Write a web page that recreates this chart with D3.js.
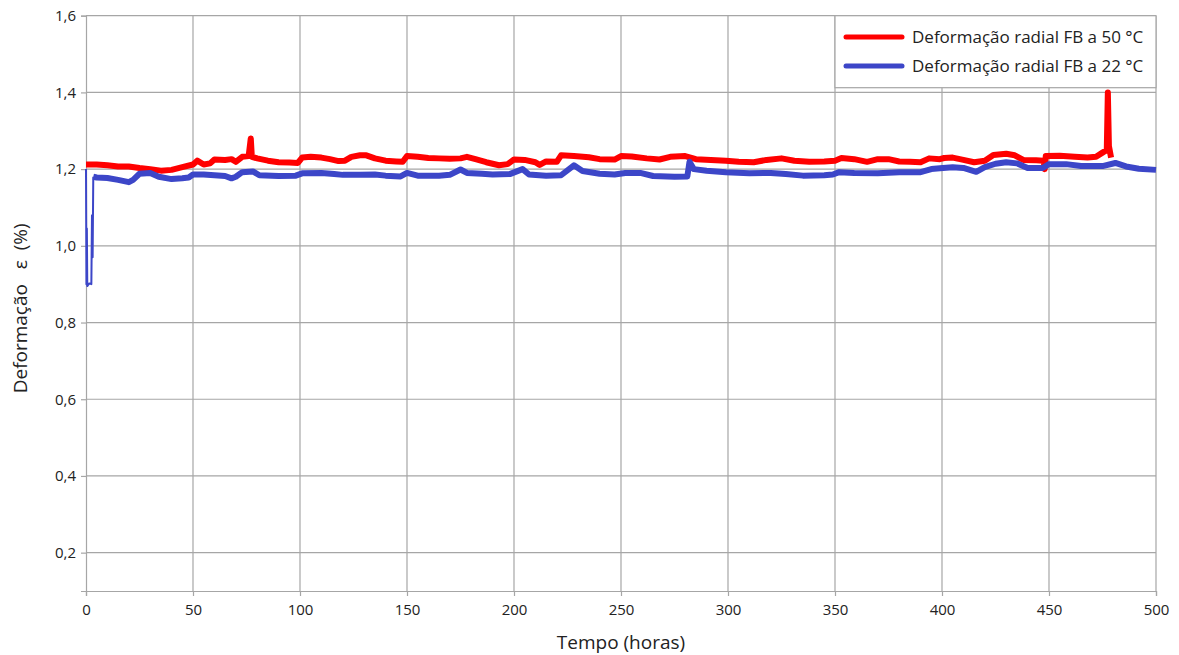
<!DOCTYPE html>
<html>
<head>
<meta charset="utf-8">
<script src="https://cdn.jsdelivr.net/npm/d3@7"></script>
<style>
  body { margin: 0; background: #fff; }
  svg { font-family: "Open Sans", sans-serif; }
</style>
</head>
<body>
<div id="chart"></div>
<script>
// series FB a 50 °C (hours, strain %)
const hours50 = [0, 5, 10, 15, 20, 25, 30, 35, 40, 45, 50, 52, 55, 58, 60, 65, 68, 70, 73, 76, 77, 77.5, 80, 85, 90, 95, 99,
  101, 105, 110, 114, 118, 121, 124, 128, 131, 135, 140, 145, 148, 150, 155, 160, 165, 170, 175, 178, 182, 187, 193, 197,
  200, 205, 210, 212, 215, 220, 222, 228, 235, 240, 247, 250, 255, 262, 268, 273, 280, 285, 292, 299, 305, 312, 318, 325,
  331, 338, 345, 350, 353, 359, 365, 370, 375, 380, 385, 390, 394, 399, 401, 405, 410, 415, 420, 424, 430, 434, 438, 444,
  447.5, 448, 448.5, 455, 462, 468, 472, 475, 477, 477.5, 478, 479];
const strain50 = [1.212, 1.212, 1.21, 1.207, 1.207, 1.203, 1.2, 1.196, 1.198, 1.205, 1.212, 1.222, 1.212, 1.215, 1.225, 1.224, 1.226, 1.219, 1.232, 1.234, 1.28, 1.232, 1.228, 1.222, 1.218, 1.217, 1.216,
  1.23, 1.232, 1.23, 1.226, 1.221, 1.222, 1.232, 1.236, 1.236, 1.228, 1.222, 1.22, 1.219, 1.234, 1.232, 1.229, 1.228, 1.227, 1.228, 1.232, 1.226, 1.218, 1.21, 1.213,
  1.225, 1.224, 1.218, 1.211, 1.22, 1.219, 1.236, 1.234, 1.231, 1.226, 1.225, 1.234, 1.233, 1.228, 1.225, 1.232, 1.234, 1.226, 1.224, 1.222, 1.219, 1.218, 1.224, 1.228,
  1.222, 1.219, 1.22, 1.222, 1.229, 1.226, 1.219, 1.226, 1.226, 1.22, 1.219, 1.218, 1.228, 1.226, 1.229, 1.23, 1.224, 1.218, 1.222, 1.237, 1.24, 1.236, 1.224, 1.223,
  1.222, 1.2, 1.234, 1.235, 1.232, 1.23, 1.232, 1.243, 1.25, 1.4, 1.26, 1.23];

// series FB a 22 °C
const hours22 = [0, 0.2, 0.4, 0.6, 1.5, 2.5, 2.8, 3.1, 3.4, 5, 10, 15, 20, 22, 25, 30, 34, 40, 45, 48, 50, 55, 60, 65, 68, 70, 73, 78, 81, 90, 98,
  101, 110, 116, 120, 128, 135, 140, 147, 150, 155, 165, 170, 175, 178, 185, 190, 198, 204, 207, 215, 222, 228, 232, 240, 247,
  252, 259, 265, 275, 281, 282, 284, 290, 299, 310, 320, 327, 335, 345, 349, 352, 359, 370, 380, 390, 395, 399, 405, 410, 416,
  420, 425, 430, 435, 440, 447, 450, 458, 465, 475, 481, 486, 492, 500];
const strain22 = [1.2, 0.9, 1.045, 0.895, 0.902, 0.9, 1.08, 0.97, 1.18, 1.178, 1.177, 1.172, 1.166, 1.172, 1.188, 1.19, 1.18, 1.174, 1.176, 1.178, 1.186, 1.186, 1.184, 1.182, 1.176, 1.18, 1.192, 1.194, 1.184, 1.182, 1.183,
  1.189, 1.19, 1.187, 1.185, 1.185, 1.186, 1.183, 1.181, 1.19, 1.183, 1.183, 1.185, 1.199, 1.19, 1.188, 1.186, 1.187, 1.2, 1.186, 1.183, 1.184, 1.21, 1.195, 1.188, 1.186,
  1.19, 1.19, 1.182, 1.18, 1.181, 1.219, 1.2, 1.196, 1.192, 1.189, 1.19, 1.187, 1.183, 1.184, 1.186, 1.192, 1.19, 1.189, 1.192, 1.192, 1.2, 1.202, 1.205, 1.203, 1.193,
  1.205, 1.214, 1.218, 1.215, 1.203, 1.203, 1.213, 1.213, 1.208, 1.208, 1.216, 1.207, 1.201, 1.198];

const xTicks = [0, 50, 100, 150, 200, 250, 300, 350, 400, 450, 500];
const yTicks = [0.2, 0.4, 0.6, 0.8, 1.0, 1.2, 1.4, 1.6];
const seriesNames = ["Deformação radial FB a 50 °C", "Deformação radial FB a 22 °C"];
const seriesColors = ["#ff0000", "#3c46c8"];

const w = 1179, h = 655;
const padLeft = 86, padRight = 1156, padTop = 15.7, padBottom = 591;

const svg = d3.select('#chart').append('svg')
  .attr('width', w)
  .attr('height', h);

const x = d3.scaleLinear().domain([0, 500]).range([padLeft, padRight]);
const y = d3.scaleLinear().domain([0.1, 1.6]).range([padBottom, padTop]);

// grid
svg.append('g').selectAll('line').data(xTicks.slice(1)).enter().append('line')
  .attr('x1', d => x(d)).attr('x2', d => x(d))
  .attr('y1', padTop).attr('y2', padBottom)
  .attr('stroke', '#a6a6a6').attr('stroke-width', 1.2);
svg.append('g').selectAll('line').data(yTicks).enter().append('line')
  .attr('x1', padLeft).attr('x2', padRight)
  .attr('y1', d => y(d)).attr('y2', d => y(d))
  .attr('stroke', '#a6a6a6').attr('stroke-width', 1.2);

// axes
const xAxis = d3.axisBottom(x).tickValues(xTicks).tickSize(5).tickPadding(8).tickFormat(d3.format('d'));
const yAxis = d3.axisLeft(y).tickValues(yTicks).tickSize(5).tickPadding(5).tickFormat(d => d.toFixed(1).replace('.', ','));

const gx = svg.append('g').attr('transform', `translate(0,${padBottom})`).call(xAxis);
const gy = svg.append('g').attr('transform', `translate(${padLeft},0)`).call(yAxis);
[gx, gy].forEach(g => {
  g.select('.domain').attr('stroke', '#a6a6a6').attr('stroke-width', 1.2);
  g.selectAll('.tick line').attr('stroke', '#a6a6a6').attr('stroke-width', 1.2);
  g.selectAll('text').attr('fill', '#222').style('font-size', '15px').style('font-family', '"Open Sans", sans-serif');
});

// lines
const line = d3.line().x(d => x(d[0])).y(d => y(d[1]));
const data50 = hours50.map((d, i) => [d, strain50[i]]);
const data22 = hours22.map((d, i) => [d, strain22[i]]);
// start-up transient of the 22 °C run is drawn thin, the steady part thick
const start22 = data22.filter(d => d[0] <= 3.4);
const rest22 = data22.filter(d => d[0] >= 3.4);

svg.append('path').datum(data50)
  .attr('d', line).attr('fill', 'none')
  .attr('stroke', seriesColors[0]).attr('stroke-width', 6)
  .attr('stroke-linejoin', 'round');
svg.append('path').datum(start22)
  .attr('d', line).attr('fill', 'none')
  .attr('stroke', seriesColors[1]).attr('stroke-width', 2)
  .attr('stroke-linejoin', 'round');
svg.append('path').datum(rest22)
  .attr('d', line).attr('fill', 'none')
  .attr('stroke', seriesColors[1]).attr('stroke-width', 6)
  .attr('stroke-linejoin', 'round');

// legend
const legend = svg.append('g');
legend.append('rect')
  .attr('x', 835).attr('y', padTop).attr('width', padRight - 835).attr('height', 72)
  .attr('fill', '#fff').attr('stroke', '#a6a6a6').attr('stroke-width', 1.2);
seriesNames.forEach((name, i) => {
  const ly = 37 + i * 29;
  legend.append('line')
    .attr('x1', 846).attr('x2', 902).attr('y1', ly).attr('y2', ly)
    .attr('stroke', seriesColors[i]).attr('stroke-width', 5).attr('stroke-linecap', 'round');
  legend.append('text')
    .attr('x', 912).attr('y', ly + 6)
    .style('font-size', '17px').attr('fill', '#222')
    .text(name);
});

// titles
svg.append('text')
  .attr('x', (padLeft + padRight) / 2).attr('y', 649)
  .attr('text-anchor', 'middle')
  .style('font-size', '19px').attr('fill', '#222')
  .text('Tempo (horas)');
svg.append('text')
  .attr('transform', `translate(27,${(padTop + padBottom) / 2 + 5}) rotate(-90)`)
  .attr('text-anchor', 'middle')
  .style('font-size', '19px').style('white-space', 'pre').attr('fill', '#222')
  .text('Deformação   ε  (%)');
</script>
</body>
</html>
